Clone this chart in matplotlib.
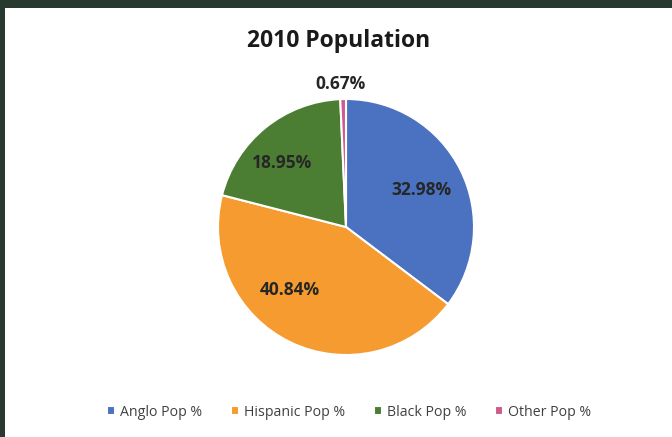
import matplotlib
matplotlib.use("Agg")
import matplotlib.pyplot as plt
from matplotlib.patches import Rectangle

# data
labels = ["Anglo Pop %", "Hispanic Pop %", "Black Pop %", "Other Pop %"]
values = [32.98, 40.84, 18.95, 0.67]
colors = ["#4a72c0", "#f59b2f", "#4b7e33", "#d05a8c"]

plt.rcParams['font.family'] = ['Open Sans', 'DejaVu Sans']

W, H = 672, 437
fig = plt.figure(figsize=(W / 100, H / 100), dpi=100, facecolor="#283a30")
# white card inside the dark frame
fig.patches.append(Rectangle((5 / W, 0), 1 - 5 / W, 1 - 8 / H, transform=fig.transFigure,
                             facecolor="white", edgecolor="none", zorder=-5))

cx, cy, r = 346, 227, 128
ax = fig.add_axes([(cx - r) / W, (H - cy - r) / H, 2 * r / W, 2 * r / H])
ax.set_zorder(2)
wedges, texts = ax.pie(values, colors=colors, startangle=90, counterclock=False,
                       radius=1, wedgeprops=dict(edgecolor="white", linewidth=1.5))
ax.set_xlim(-1, 1)
ax.set_ylim(-1, 1)
ax.set_aspect("equal")
ax.axis("off")

# data labels (Excel best-fit placement)
label_pos = [(0.586, 0.289), (-0.4375, -0.49), (-0.5, 0.5), (-0.04, 1.117)]
for v, (x, y) in zip(values, label_pos):
    ax.text(x, y, f"{v:.2f}%", ha="center", va="center", fontsize=12.5,
            fontweight="bold", color="#262626", clip_on=False)

fig.text(339 / W, 1 - 41 / H, "2010 Population", ha="center", va="center",
         fontsize=16.5, fontweight="bold", color="#1a1a1a")

fig.legend(wedges, labels, loc="center", bbox_to_anchor=(349 / W, 1 - 412 / H),
           ncol=4, frameon=False, fontsize=10.2, handlelength=0.55, handleheight=0.55,
           handletextpad=0.35, columnspacing=2.05, labelcolor="#404040")

fig.savefig("out.png", dpi=100, facecolor=fig.get_facecolor())
